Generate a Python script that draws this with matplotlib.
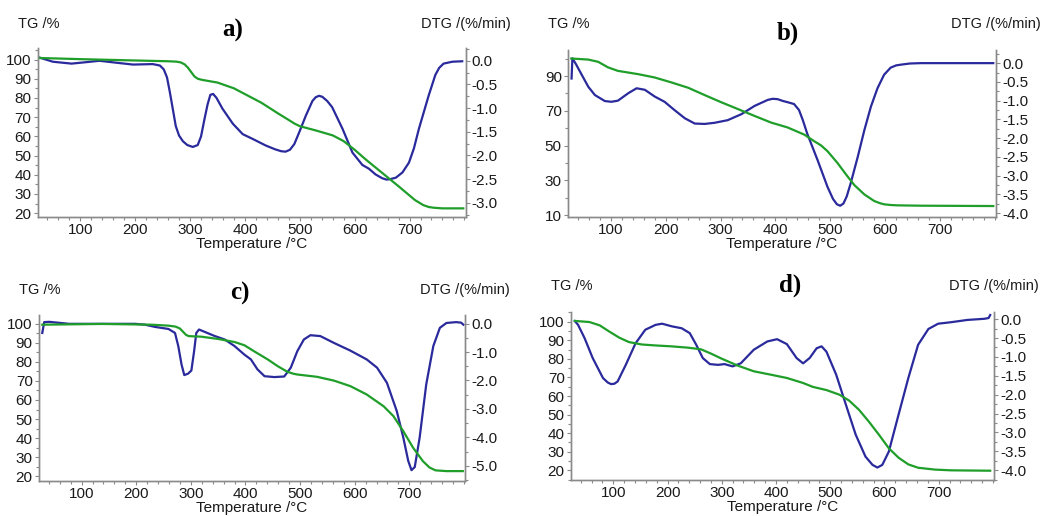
import matplotlib
matplotlib.use("Agg")
import matplotlib.pyplot as plt
from matplotlib.ticker import MultipleLocator, FormatStrFormatter

plt.rcParams['font.family'] = ['Liberation Sans', 'DejaVu Sans']
plt.rcParams['axes.unicode_minus'] = False

# ---- panel a ----
a_tg_T = [25, 100, 200, 260, 275, 283, 290, 296, 302, 308, 314, 322, 350, 380, 400, 430, 460,
          480, 490, 500, 530, 560, 580, 600, 620, 650, 680, 710, 725, 735, 745, 760, 798]
a_tg = [100.8, 100.2, 99.5, 99.1, 98.9, 98.5, 97.5, 95.8, 93.5, 91.2, 90.0, 89.4, 88.0, 85.0,
        82.0, 77.5, 72.0, 68.5, 66.7, 65.3, 63.0, 60.5, 57.5, 53.0, 48.0, 41.0, 34.0, 26.8,
        24.2, 23.2, 22.8, 22.5, 22.5]
a_dtg_T = [25, 50, 84, 110, 135, 165, 196, 232, 245, 252, 258, 263, 268, 274, 280, 287, 295,
           305, 314, 320, 326, 332, 337, 342, 348, 359, 378, 396, 414, 438, 455, 466, 474,
           482, 490, 499, 511, 523, 529, 535, 541, 550, 559, 578, 596, 614, 626, 638, 650,
           658, 665, 675, 687, 699, 708, 717, 735, 747, 754, 762, 778, 796]
a_dtg = [0.07, -0.02, -0.06, -0.03, 0.0, -0.04, -0.08, -0.07, -0.10, -0.18, -0.35, -0.65,
         -0.98, -1.38, -1.58, -1.70, -1.78, -1.82, -1.78, -1.60, -1.25, -0.92, -0.72, -0.70,
         -0.78, -1.01, -1.33, -1.55, -1.65, -1.79, -1.87, -1.91, -1.92, -1.88, -1.76, -1.51,
         -1.16, -0.85, -0.77, -0.74, -0.76, -0.85, -0.98, -1.44, -1.94, -2.20, -2.28, -2.40,
         -2.48, -2.51, -2.50, -2.47, -2.36, -2.15, -1.85, -1.44, -0.73, -0.30, -0.15, -0.06,
         -0.02, -0.01]

# ---- panel b ----
b_tg_T = [28, 59, 77, 95, 113, 150, 180, 210, 241, 271, 301, 332, 362, 392, 422, 453, 471,
          483, 495, 513, 531, 544, 562, 580, 590, 598, 610, 622, 665, 797]
b_tg = [100.1, 99.5, 98.2, 95.0, 93.0, 91.1, 89.2, 86.4, 83.3, 79.1, 75.0, 71.0, 67.1, 63.3,
        60.5, 56.3, 52.5, 50.2, 46.8, 40.1, 32.5, 27.3, 22.0, 18.2, 17.0, 16.3, 15.9, 15.7,
        15.5, 15.3]
b_dtg_T = [28.5, 30, 37, 47, 59, 71, 89, 101, 113, 132, 147, 162, 180, 198, 216, 235, 253,
           271, 289, 313, 338, 362, 386, 395, 404, 414, 422, 434, 443, 450, 458, 477, 495,
           505, 512, 518, 524, 530, 537, 550, 562, 574, 586, 598, 610, 620, 629, 645, 665, 797]
b_dtg = [-0.41, 0.13, -0.04, -0.31, -0.63, -0.85, -1.01, -1.03, -1.00, -0.80, -0.67, -0.71,
         -0.89, -1.03, -1.25, -1.47, -1.61, -1.62, -1.59, -1.52, -1.36, -1.14, -0.98, -0.95,
         -0.96, -1.01, -1.04, -1.09, -1.25, -1.52, -1.88, -2.59, -3.30, -3.62, -3.76, -3.80,
         -3.74, -3.55, -3.21, -2.50, -1.79, -1.16, -0.67, -0.31, -0.12, -0.06, -0.04, -0.01,
         0.0, 0.0]

# ---- panel c ----
c_tg_T = [28, 138, 228, 259, 272, 280, 286, 291, 296, 319, 350, 380, 398, 416, 441, 459, 477,
          488, 495, 531, 562, 592, 622, 653, 671, 689, 707, 725, 737, 748, 768, 798]
c_tg = [99.6, 100.0, 99.6, 99.1, 98.6, 97.6, 95.8, 94.3, 93.6, 93.3, 92.1, 90.5, 88.8, 85.6,
        81.3, 77.8, 74.8, 73.8, 73.4, 72.2, 70.2, 67.3, 62.9, 56.7, 51.5, 43.6, 34.9, 27.8,
        24.5, 23.0, 22.6, 22.6]
c_dtg_T = [28, 31.5, 41, 77, 138, 198, 216, 235, 259, 271, 277, 283, 288, 295, 301, 306, 310,
           315, 325, 344, 362, 380, 398, 410, 422, 435, 453, 471, 483, 495, 507, 519, 537,
           562, 592, 622, 641, 659, 677, 689, 698, 704, 710, 719, 731, 744, 756, 768, 786,
           795, 799]
c_dtg = [-0.33, 0.05, 0.06, -0.01, -0.01, -0.01, -0.04, -0.12, -0.19, -0.33, -0.79, -1.44,
         -1.81, -1.76, -1.65, -0.97, -0.33, -0.21, -0.29, -0.44, -0.56, -0.79, -1.09, -1.26,
         -1.61, -1.85, -1.88, -1.86, -1.55, -0.97, -0.56, -0.41, -0.44, -0.68, -0.95, -1.26,
         -1.55, -2.08, -3.07, -4.00, -4.82, -5.15, -5.04, -4.00, -2.14, -0.79, -0.15, 0.02,
         0.05, 0.03, -0.04]

# ---- panel d ----
d_tg_T = [29, 56, 75, 93, 111, 129, 153, 178, 208, 238, 262, 281, 299, 329, 359, 390, 420,
          450, 468, 493, 517, 535, 553, 571, 590, 608, 626, 644, 662, 693, 723, 795]
d_tg = [100.4, 99.8, 98.0, 94.6, 91.4, 89.0, 87.7, 87.2, 86.7, 86.0, 85.1, 82.7, 80.2, 76.4,
        73.3, 71.5, 69.7, 67.0, 64.9, 63.2, 60.7, 57.5, 52.6, 46.3, 39.1, 31.9, 26.8, 23.2,
        21.4, 20.4, 20.0, 19.8]
d_dtg_T = [29, 35, 47, 62, 81, 90, 96, 102, 108, 123, 141, 159, 178, 190, 208, 226, 241, 253,
           265, 278, 293, 305, 320, 335, 359, 384, 402, 420, 438, 450, 462, 475, 484, 493,
           511, 529, 547, 565, 578, 587, 596, 608, 626, 644, 662, 681, 699, 723, 753, 784,
           792, 795]
d_dtg = [-0.05, -0.15, -0.50, -1.03, -1.56, -1.68, -1.72, -1.71, -1.65, -1.21, -0.64, -0.28,
         -0.15, -0.12, -0.19, -0.24, -0.37, -0.68, -1.03, -1.19, -1.21, -1.19, -1.25, -1.17,
         -0.81, -0.59, -0.53, -0.66, -1.03, -1.17, -1.03, -0.77, -0.72, -0.86, -1.47, -2.27,
         -3.06, -3.64, -3.86, -3.93, -3.86, -3.51, -2.53, -1.56, -0.68, -0.26, -0.12, -0.08,
         -0.02, 0.01, 0.03, 0.11]

# panel settings: label, rect in px (left, top, right, bottom), TG ylim/ticks, DTG ylim/step
W, H = 1046, 516
panels = [
    ('a)', (37.5, 48, 465.5, 217), (18, 106), range(20, 101, 10), (-3.3, 0.27), 0.5,
     a_tg_T, a_tg, a_dtg_T, a_dtg, (233, 30), 24),
    ('b)', (568, 50, 996, 217), (9, 105), range(10, 91, 20), (-4.1, 0.35), 0.5,
     b_tg_T, b_tg, b_dtg_T, b_dtg, (788, 33), 24),
    ('c)', (39, 315, 465, 481), (17.4, 104.7), range(20, 101, 10), (-5.53, 0.3), 1.0,
     c_tg_T, c_tg, c_dtg_T, c_dtg, (240, 293), 290),
    ('d)', (571, 312, 994, 480), (14.8, 105.2), range(20, 101, 10), (-4.26, 0.19), 0.5,
     d_tg_T, d_tg, d_dtg_T, d_dtg, (790, 285), 286),
]
x_ticks = [100, 200, 300, 400, 500, 600, 700]

green = '#1f9e2a'
blue = '#2a2a9c'
spine_c = '#8a8a8a'
txt_c = '#1a1a1a'

fig = plt.figure(figsize=(W / 100, H / 100), dpi=100)

for (lab, (l, t, r, b), tg_lim, tg_ticks, dtg_lim, dtg_step,
     tgT, tg, dT, dtg, title_xy, head_y) in panels:
    ax = fig.add_axes([l / W, 1 - b / H, (r - l) / W, (b - t) / H])
    ax2 = ax.twinx()
    ax.plot(tgT, tg, color=green, lw=1.6, solid_joinstyle='round')
    ax2.plot(dT, dtg, color=blue, lw=1.6, solid_joinstyle='round')
    ax.set_zorder(ax2.get_zorder() + 1)
    ax.patch.set_visible(False)

    ax.set_xlim(22, 802)
    ax.set_ylim(*tg_lim)
    ax2.set_ylim(*dtg_lim)
    ax.set_xticks(x_ticks)
    ax.set_yticks(list(tg_ticks))
    ax.xaxis.set_minor_locator(MultipleLocator(20))
    ax.yaxis.set_minor_locator(MultipleLocator(tg_ticks.step / 2))
    ax2.yaxis.set_major_locator(MultipleLocator(dtg_step))
    ax2.yaxis.set_minor_locator(MultipleLocator(dtg_step / 2))
    ax2.yaxis.set_major_formatter(FormatStrFormatter('%.1f'))

    for a in (ax, ax2):
        a.spines['top'].set_visible(False)
        for s in ('left', 'right', 'bottom'):
            a.spines[s].set_color(spine_c)
            a.spines[s].set_linewidth(1.0)
        a.tick_params(which='both', direction='out', color=spine_c, labelsize=11,
                      labelcolor=txt_c, width=0.8)
        a.tick_params(which='major', length=3, pad=1.5)
        a.tick_params(which='minor', length=2)
    ax.set_xlabel('Temperature /°C', fontsize=11, labelpad=0, color=txt_c)

    fig.text(title_xy[0] / W, 1 - title_xy[1] / H, lab, fontsize=18, fontweight='bold',
             family='Liberation Serif', ha='center', va='center')
    fig.text((l - 20) / W, 1 - head_y / H, 'TG /%', fontsize=10.5, ha='left', va='center',
             color=txt_c)
    fig.text((r + 45) / W, 1 - head_y / H, 'DTG /(%/min)', fontsize=10.5, ha='right',
             va='center', color=txt_c)

fig.savefig('out.png', dpi=100)
